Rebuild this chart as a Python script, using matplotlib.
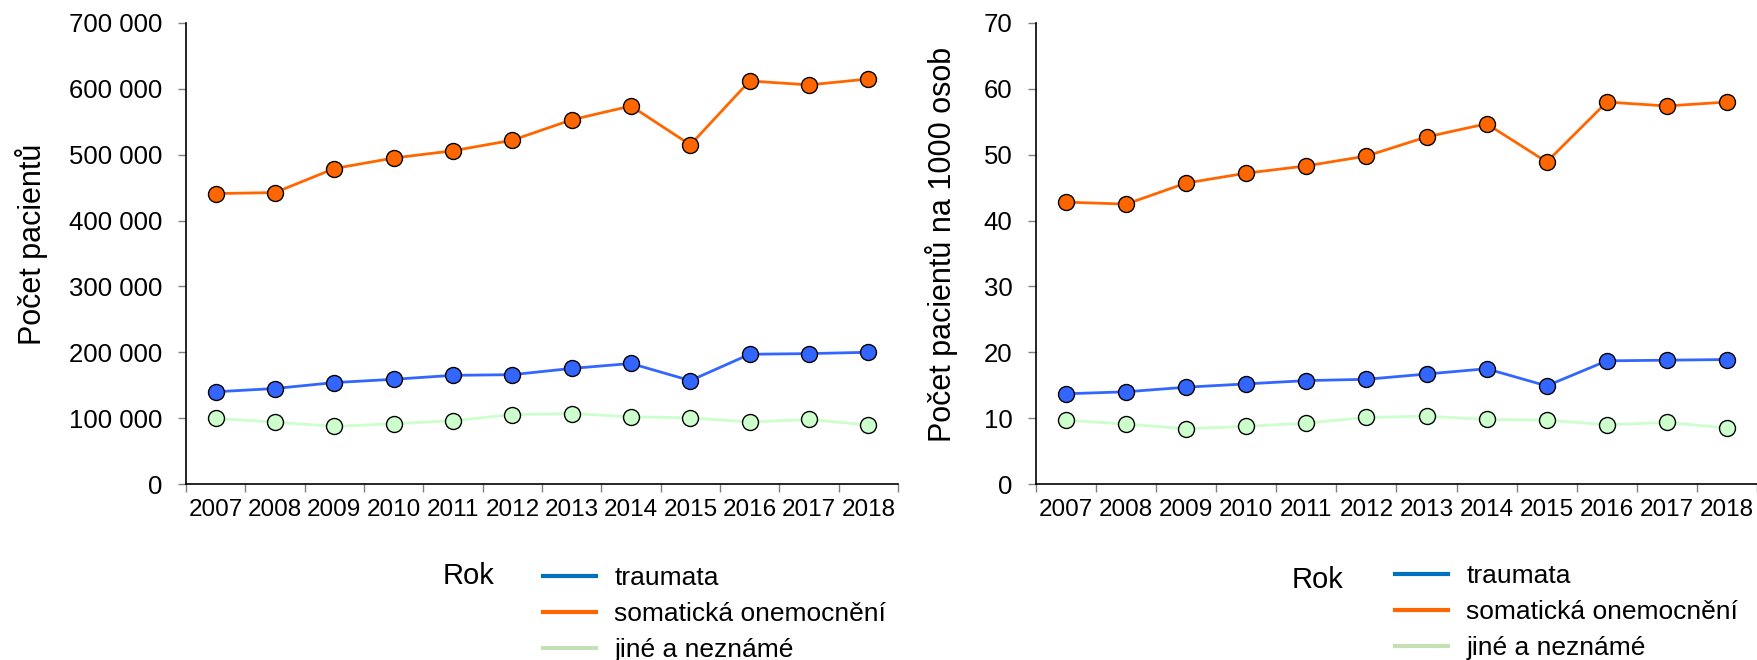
import matplotlib
matplotlib.use("Agg")
import matplotlib.pyplot as plt
from matplotlib.lines import Line2D
from matplotlib.ticker import FuncFormatter, MultipleLocator, FixedLocator

plt.rcParams['font.family'] = ['Liberation Sans', 'DejaVu Sans']

# data
roky = ['2007', '2008', '2009', '2010', '2011', '2012', '2013', '2014', '2015', '2016', '2017', '2018']

traumata_abs = [140000, 145000, 154000, 159000, 165000, 166000, 175500, 183000, 157000, 197000, 198000, 200000]
somaticka_abs = [441000, 442500, 479000, 495000, 506000, 522000, 553000, 574000, 515000, 612000, 606000, 615000]
jine_abs = [99500, 94000, 87500, 91500, 96000, 105500, 107000, 102000, 100500, 94000, 98000, 89500]

traumata_rel = [13.7, 14.0, 14.7, 15.2, 15.7, 15.9, 16.7, 17.5, 14.9, 18.7, 18.8, 18.9]
somaticka_rel = [42.8, 42.5, 45.7, 47.2, 48.3, 49.8, 52.7, 54.7, 48.9, 58.0, 57.4, 58.0]
jine_rel = [9.7, 9.1, 8.4, 8.75, 9.25, 10.1, 10.3, 9.8, 9.7, 9.0, 9.35, 8.5]

nazvy = ['traumata', 'somatická onemocnění', 'jiné a neznámé']

# barvy
LINE_COLORS = ['#3366FF', '#FF6600', '#CCFFCC']
LEG_COLORS = ['#0070C0', '#FF6600', '#C5E0B4']

W, H = 1758, 660
fig = plt.figure(figsize=(W / 100, H / 100), dpi=100)

ax1 = fig.add_axes([186 / W, 1 - 484 / H, (898 - 186) / W, (484 - 23) / H])
ax2 = fig.add_axes([1036 / W, 1 - 484 / H, (1757 - 1036) / W, (484 - 23) / H])


def thousands(x, pos):
    return f"{int(x):,}".replace(",", " ")


def draw(ax, series, ymax, ystep, ylabel, label_x, fmt=None):
    x = list(range(len(roky)))
    for vals, c in zip(series, LINE_COLORS):
        ax.plot(x, vals, color=c, lw=2.0, marker='o', ms=11.5,
                mfc=c, mec='black', mew=1.0, zorder=3)
    ax.set_xlim(-0.5, len(roky) - 0.5)
    ax.set_ylim(0, ymax)
    ax.yaxis.set_major_locator(MultipleLocator(ystep))
    if fmt:
        ax.yaxis.set_major_formatter(FuncFormatter(fmt))
    # kategorie mezi ticky
    ax.xaxis.set_major_locator(FixedLocator([i - 0.5 for i in range(len(roky) + 1)]))
    ax.xaxis.set_major_formatter(FuncFormatter(lambda v, p: ''))
    ax.set_xticks(x, minor=True)
    ax.set_xticklabels(roky, minor=True)
    ax.tick_params(axis='x', which='minor', length=0, labelsize=17.5, pad=11)
    ax.tick_params(axis='x', which='major', length=6, width=1, color='#808080')
    ax.tick_params(axis='y', length=6, width=1, color='#808080', labelsize=18.5, pad=11)
    for s in ['top', 'right']:
        ax.spines[s].set_visible(False)
    for s in ['left', 'bottom']:
        ax.spines[s].set_linewidth(1.2)
    ax.set_ylabel(ylabel, fontsize=22, va='center')
    ax.yaxis.set_label_coords(label_x, 1 - 244 / H, transform=fig.transFigure)


draw(ax1, [traumata_abs, somaticka_abs, jine_abs], 700000, 100000,
     'Počet pacientů', 32 / W, thousands)
draw(ax2, [traumata_rel, somaticka_rel, jine_rel], 70, 10,
     'Počet pacientů na 1000 osob', 942 / W)

handles = [Line2D([], [], color=c, lw=3) for c in LEG_COLORS]

fig.text(443 / W, 1 - 576 / H, 'Rok', fontsize=21, ha='left', va='center')
fig.text(1292 / W, 1 - 580 / H, 'Rok', fontsize=21, ha='left', va='center')

for x0, y0 in [(543, 566), (1395, 564)]:
    fig.legend(handles, nazvy, loc='upper left',
               bbox_to_anchor=(x0 / W, 1 - y0 / H), bbox_transform=fig.transFigure,
               frameon=False, fontsize=19, borderpad=0, borderaxespad=0,
               handlelength=2.0, handletextpad=0.7, labelspacing=0.45)

fig.savefig('out.png', dpi=100)
